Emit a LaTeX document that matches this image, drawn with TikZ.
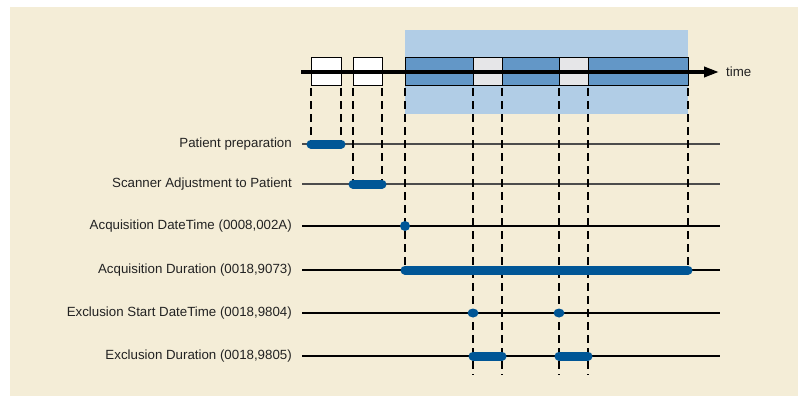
\documentclass[tikz,border=0pt]{standalone}
\usepackage{fontspec}
\setmainfont{Liberation Sans}
\usetikzlibrary{arrows.meta}
\definecolor{beige}{HTML}{F4EDD7}
\definecolor{lightblue}{HTML}{B1CDE6}
\definecolor{midblue}{HTML}{6397C7}
\definecolor{greybox}{HTML}{E6E6E8}
\definecolor{barblue}{HTML}{005696}
\definecolor{labelgrey}{HTML}{222222}
\begin{document}
\begin{tikzpicture}[x=1pt,y=-1pt,
  lbl/.style={anchor=east,inner sep=0pt,text=labelgrey,font=\fontsize{13.3}{16}\selectfont},
  rowline/.style={line width=1.1pt,draw=black},
  rowlinegrey/.style={line width=1.1pt,draw=black!70},
  dashline/.style={line width=1.1pt,dash pattern=on 8pt off 5pt},
  bar/.style={line width=9pt,draw=barblue,line cap=round},
  seg/.style={draw=black,line width=1pt},
  dot/.style={fill=barblue}
]
\useasboundingbox (0,0) rectangle (798,396);
\fill[white] (0,0) rectangle (798,396);
\fill[beige] (10,7) rectangle (798,396);
\fill[lightblue] (405,30) rectangle (688,114);

% tick coordinates
\foreach \n/\x in {1/311,2/341,3/353,4/382,5/405,6/473,7/502,8/559,9/588,10/688}
  \coordinate (t\n) at (\x,88);

% rows
\foreach \n/\y in {1/144,2/184,3/226,4/270,5/313,6/356}{
  \coordinate (L\n) at (302,\y);
  \coordinate (R\n) at (720,\y);
}
\coordinate (bottom) at (0,375);

% boxes on time axis
\filldraw[seg,fill=white] (311,58) rectangle (341,86);
\filldraw[seg,fill=white] (353,58) rectangle (382,86);
\filldraw[seg,fill=midblue] (405,58) rectangle (473,86);
\filldraw[seg,fill=greybox] (473,58) rectangle (502,86);
\filldraw[seg,fill=midblue] (502,58) rectangle (559,86);
\filldraw[seg,fill=greybox] (559,58) rectangle (588,86);
\filldraw[seg,fill=midblue] (588,58) rectangle (688,86);

% time axis
\coordinate (ts) at (301,72);
\coordinate (te) at (719,72);
\draw[line width=3.5pt,-{Triangle[length=15pt,width=10pt]}] (ts) -- (te);
\node[anchor=west,inner sep=0pt,text=labelgrey,font=\fontsize{13.3}{16}\selectfont] (timelbl) at (726,72) {time};

% labels
\node[lbl] (n1) at (292,144) {Patient preparation};
\node[lbl] (n2) at (292,184) {Scanner Adjustment to Patient};
\node[lbl] (n3) at (292,226) {Acquisition DateTime (0008,002A)};
\node[lbl] (n4) at (292,270) {Acquisition Duration (0018,9073)};
\node[lbl] (n5) at (292,313) {Exclusion Start DateTime (0018,9804)};
\node[lbl] (n6) at (292,356) {Exclusion Duration (0018,9805)};

% row lines
\draw[rowlinegrey] (L1) -- (R1);
\draw[rowlinegrey] (L2) -- (R2);
\draw[rowline] (L3) -- (R3);
\draw[rowline] (L4) -- (R4);
\draw[rowline] (L5) -- (R5);
\draw[rowline] (L6) -- (R6);

% dashed verticals
\draw[dashline] (t1) -- (t1 |- L1);
\draw[dashline] (t2) -- (t2 |- L1);
\draw[dashline] (t3) -- (t3 |- L2);
\draw[dashline] (t4) -- (t4 |- L2);
\draw[dashline] (t5) -- (t5 |- L4);
\draw[dashline] (t10) -- (t10 |- L4);
\foreach \n in {6,7,8,9}
  \draw[dashline] (t\n) -- (t\n |- bottom);

% bars and dots
\draw[bar] (t1 |- L1) -- (t2 |- L1);
\draw[bar] (t3 |- L2) -- (t4 |- L2);
\fill[dot] (t5 |- L3) ellipse (5pt and 5pt);
\draw[bar] (t5 |- L4) -- (t10 |- L4);
\fill[dot] (t6 |- L5) ellipse (5.5pt and 4.5pt);
\fill[dot] (t8 |- L5) ellipse (5.5pt and 4.5pt);
\draw[bar] (t6 |- L6) -- (t7 |- L6);
\draw[bar] (t8 |- L6) -- (t9 |- L6);
\end{tikzpicture}
\end{document}
